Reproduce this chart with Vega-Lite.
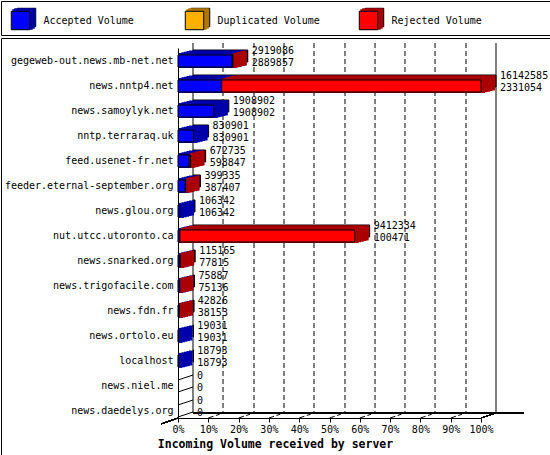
{
  "$schema": "https://vega.github.io/schema/vega-lite/v6.json",
  "padding": 0,
  "background": "white",
  "spacing": 1,
  "datasets": {
    "servers": [
      {"server": "gegeweb-out.news.mb-net.net", "total": 2919086, "accepted": 2889857},
      {"server": "news.nntp4.net", "total": 16142585, "accepted": 2331054},
      {"server": "news.samoylyk.net", "total": 1908902, "accepted": 1908902},
      {"server": "nntp.terraraq.uk", "total": 830901, "accepted": 830901},
      {"server": "feed.usenet-fr.net", "total": 672735, "accepted": 598847},
      {"server": "feeder.eternal-september.org", "total": 399335, "accepted": 387407},
      {"server": "news.glou.org", "total": 106342, "accepted": 106342},
      {"server": "nut.utcc.utoronto.ca", "total": 9412334, "accepted": 100471},
      {"server": "news.snarked.org", "total": 115165, "accepted": 77815},
      {"server": "news.trigofacile.com", "total": 75887, "accepted": 75136},
      {"server": "news.fdn.fr", "total": 42826, "accepted": 38153},
      {"server": "news.ortolo.eu", "total": 19031, "accepted": 19031},
      {"server": "localhost", "total": 18793, "accepted": 18793},
      {"server": "news.niel.me", "total": 0, "accepted": 0},
      {"server": "news.daedelys.org", "total": 0, "accepted": 0}
    ],
    "series": [
      {"name": "Accepted Volume"},
      {"name": "Duplicated Volume"},
      {"name": "Rejected Volume"}
    ],
    "ticks": [
      {"share": 0.1}, {"share": 0.2}, {"share": 0.3}, {"share": 0.4}, {"share": 0.5},
      {"share": 0.6}, {"share": 0.7}, {"share": 0.8}, {"share": 0.9}
    ]
  },
  "config": {
    "view": {"stroke": "black", "strokeWidth": 1},
    "axis": {
      "labelFont": "DejaVu Sans Mono",
      "labelFontSize": 10,
      "labelColor": "black",
      "titleFont": "DejaVu Sans Mono",
      "titleColor": "black",
      "domainColor": "black",
      "tickColor": "black"
    }
  },
  "vconcat": [
    {
      "width": 549,
      "height": 34,
      "data": {"name": "series"},
      "encoding": {
        "x": {
          "field": "name",
          "type": "nominal",
          "sort": null,
          "scale": {"type": "point", "range": [19.5, 367.5], "padding": 0},
          "axis": null
        }
      },
      "layer": [
        {
          "mark": {"type": "square", "size": 340, "opacity": 1, "stroke": "black", "strokeWidth": 1, "xOffset": 6, "yOffset": -0.5},
          "encoding": {
            "color": {
              "field": "name",
              "type": "nominal",
              "scale": {"domain": ["Accepted Volume", "Duplicated Volume", "Rejected Volume"], "range": ["#0000aa", "#b07800", "#aa0000"]},
              "legend": null
            }
          }
        },
        {
          "mark": {"type": "square", "size": 340, "opacity": 1, "strokeWidth": 2, "xOffset": 4, "yOffset": 0.5},
          "encoding": {
            "color": {"field": "name", "type": "nominal", "legend": null},
            "stroke": {
              "field": "name",
              "type": "nominal",
              "scale": {"domain": ["Accepted Volume", "Duplicated Volume", "Rejected Volume"], "range": ["#0000aa", "#b07800", "#aa0000"]},
              "legend": null
            }
          }
        },
        {
          "mark": {"type": "square", "size": 340, "opacity": 1, "strokeWidth": 2, "xOffset": 2, "yOffset": 1.5},
          "encoding": {
            "color": {"field": "name", "type": "nominal", "legend": null},
            "stroke": {"field": "name", "type": "nominal", "legend": null}
          }
        },
        {
          "mark": {"type": "square", "size": 340, "opacity": 1, "stroke": "black", "strokeWidth": 1, "yOffset": 2.5},
          "encoding": {
            "fill": {
              "field": "name",
              "type": "nominal",
              "scale": {"domain": ["Accepted Volume", "Duplicated Volume", "Rejected Volume"], "range": ["#0000ff", "#ffb000", "#ff0000"]},
              "legend": null
            }
          }
        },
        {
          "mark": {"type": "text", "align": "left", "baseline": "middle", "dx": 23, "dy": 3, "font": "DejaVu Sans Mono", "fontSize": 10, "color": "black"},
          "encoding": {"text": {"field": "name"}}
        }
      ]
    },
    {
      "width": 549,
      "height": 419,
      "data": {"name": "servers"},
      "resolve": {"scale": {"x": "independent"}, "axis": {"x": "independent"}},
      "layer": [
        {
          "encoding": {
            "y": {
              "field": "server",
              "type": "nominal",
              "sort": null,
              "scale": {"type": "band", "range": [10, 380], "paddingInner": 0.52, "paddingOuter": 0.16, "align": 0.875},
              "axis": {"title": null, "offset": -177, "ticks": false, "labelPadding": 5, "labelLimit": 300}
            }
          },
          "layer": [
            {
              "transform": [{"filter": "datum.accepted > 0"}],
              "mark": {"type": "bar", "fill": "#0000aa", "stroke": "black", "strokeWidth": 1, "xOffset": 15, "x2Offset": 15, "yOffset": -5, "y2Offset": -5},
              "encoding": {
                "x": {
                  "field": "accepted",
                  "type": "quantitative",
                  "title": "Incoming Volume received by server",
                  "scale": {"domain": [0, 16142585], "range": [177, 480], "nice": false, "zero": true},
                  "axis": {
                    "orient": "bottom",
                    "offset": -39,
                    "grid": false,
                    "values": [0, 1614258.5, 3228517, 4842775.5, 6457034, 8071292.5, 9685551, 11299809.5, 12914068, 14528326.5, 16142585],
                    "labelExpr": "format(datum.value / 16142585, '.0%')",
                    "tickSize": 4,
                    "labelPadding": 2,
                    "labelFlush": false,
                    "labelOverlap": false,
                    "titleX": 274,
                    "titleY": 26,
                    "titleAlign": "center",
                    "titleBaseline": "middle",
                    "titleFontWeight": "bold",
                    "titleFontSize": 11.5
                  }
                }
              }
            },
            {
              "transform": [{"filter": "datum.accepted > 0"}],
              "mark": {"type": "bar", "fill": "#0000aa", "stroke": "#0000aa", "strokeWidth": 3, "xOffset": 12.5, "x2Offset": 12.5, "yOffset": -3, "y2Offset": -3},
              "encoding": {"x": {"field": "accepted", "type": "quantitative", "title": "Incoming Volume received by server"}}
            },
            {
              "transform": [{"filter": "datum.accepted > 0"}],
              "mark": {"type": "bar", "fill": "#0000aa", "stroke": "#0000aa", "strokeWidth": 3, "xOffset": 10, "x2Offset": 10, "yOffset": -2.4, "y2Offset": -2.4},
              "encoding": {"x": {"field": "accepted", "type": "quantitative", "title": "Incoming Volume received by server"}}
            },
            {
              "transform": [{"filter": "datum.accepted > 0"}],
              "mark": {"type": "bar", "fill": "#0000aa", "stroke": "#0000aa", "strokeWidth": 3, "xOffset": 7.5, "x2Offset": 7.5, "yOffset": -1.8, "y2Offset": -1.8},
              "encoding": {"x": {"field": "accepted", "type": "quantitative", "title": "Incoming Volume received by server"}}
            },
            {
              "transform": [{"filter": "datum.accepted > 0"}],
              "mark": {"type": "bar", "fill": "#0000aa", "stroke": "#0000aa", "strokeWidth": 3, "xOffset": 5, "x2Offset": 5, "yOffset": -1.2, "y2Offset": -1.2},
              "encoding": {"x": {"field": "accepted", "type": "quantitative", "title": "Incoming Volume received by server"}}
            },
            {
              "transform": [{"filter": "datum.accepted > 0"}],
              "mark": {"type": "bar", "fill": "#0000aa", "stroke": "#0000aa", "strokeWidth": 3, "xOffset": 2.5, "x2Offset": 2.5, "yOffset": -0.6, "y2Offset": -0.6},
              "encoding": {"x": {"field": "accepted", "type": "quantitative", "title": "Incoming Volume received by server"}}
            },
            {
              "transform": [{"filter": "datum.total > datum.accepted"}],
              "mark": {"type": "bar", "fill": "#aa0000", "stroke": "black", "strokeWidth": 1, "xOffset": 15, "x2Offset": 15, "yOffset": -5, "y2Offset": -5},
              "encoding": {"x": {"field": "accepted", "type": "quantitative", "title": "Incoming Volume received by server"}, "x2": {"field": "total"}}
            },
            {
              "transform": [{"filter": "datum.total > datum.accepted"}],
              "mark": {"type": "bar", "fill": "#aa0000", "stroke": "#aa0000", "strokeWidth": 3, "xOffset": 12.5, "x2Offset": 12.5, "yOffset": -3, "y2Offset": -3},
              "encoding": {"x": {"field": "accepted", "type": "quantitative", "title": "Incoming Volume received by server"}, "x2": {"field": "total"}}
            },
            {
              "transform": [{"filter": "datum.total > datum.accepted"}],
              "mark": {"type": "bar", "fill": "#aa0000", "stroke": "#aa0000", "strokeWidth": 3, "xOffset": 10, "x2Offset": 10, "yOffset": -2.4, "y2Offset": -2.4},
              "encoding": {"x": {"field": "accepted", "type": "quantitative", "title": "Incoming Volume received by server"}, "x2": {"field": "total"}}
            },
            {
              "transform": [{"filter": "datum.total > datum.accepted"}],
              "mark": {"type": "bar", "fill": "#aa0000", "stroke": "#aa0000", "strokeWidth": 3, "xOffset": 7.5, "x2Offset": 7.5, "yOffset": -1.8, "y2Offset": -1.8},
              "encoding": {"x": {"field": "accepted", "type": "quantitative", "title": "Incoming Volume received by server"}, "x2": {"field": "total"}}
            },
            {
              "transform": [{"filter": "datum.total > datum.accepted"}],
              "mark": {"type": "bar", "fill": "#aa0000", "stroke": "#aa0000", "strokeWidth": 3, "xOffset": 5, "x2Offset": 5, "yOffset": -1.2, "y2Offset": -1.2},
              "encoding": {"x": {"field": "accepted", "type": "quantitative", "title": "Incoming Volume received by server"}, "x2": {"field": "total"}}
            },
            {
              "transform": [{"filter": "datum.total > datum.accepted"}],
              "mark": {"type": "bar", "fill": "#aa0000", "stroke": "#aa0000", "strokeWidth": 3, "xOffset": 2.5, "x2Offset": 2.5, "yOffset": -0.6, "y2Offset": -0.6},
              "encoding": {"x": {"field": "accepted", "type": "quantitative", "title": "Incoming Volume received by server"}, "x2": {"field": "total"}}
            },
            {
              "transform": [{"filter": "datum.accepted > 0"}],
              "mark": {"type": "bar", "fill": "#0000ff", "stroke": "black", "strokeWidth": 1},
              "encoding": {"x": {"field": "accepted", "type": "quantitative", "title": "Incoming Volume received by server"}}
            },
            {
              "transform": [{"filter": "datum.total > datum.accepted"}],
              "mark": {"type": "bar", "fill": "#ff0000", "stroke": "black", "strokeWidth": 1},
              "encoding": {"x": {"field": "accepted", "type": "quantitative", "title": "Incoming Volume received by server"}, "x2": {"field": "total"}}
            },
            {
              "transform": [{"filter": "datum.total == 0"}],
              "mark": {"type": "rule", "color": "black", "strokeWidth": 1, "x2Offset": 15, "yOffset": -6, "y2Offset": -11},
              "encoding": {
                "x": {"field": "total", "type": "quantitative", "title": "Incoming Volume received by server"},
                "x2": {"field": "total"},
                "y2": {"field": "server"}
              }
            },
            {
              "transform": [{"filter": "datum.total == 0"}],
              "mark": {"type": "rule", "color": "black", "strokeWidth": 1, "x2Offset": 15, "yOffset": 6, "y2Offset": 1},
              "encoding": {
                "x": {"field": "total", "type": "quantitative", "title": "Incoming Volume received by server"},
                "x2": {"field": "total"},
                "y2": {"field": "server"}
              }
            }
          ]
        },
        {
          "layer": [
            {
              "mark": {"type": "text", "align": "left", "baseline": "middle", "dx": -1, "dy": -10.5, "font": "DejaVu Sans Mono", "fontSize": 10, "color": "black"},
              "encoding": {
                "x": {
                  "field": "total",
                  "type": "quantitative",
                  "scale": {"domain": [0, 16142585], "range": [197, 500], "nice": false, "zero": true},
                  "axis": {
                    "orient": "top",
                    "translate": -5,
                    "domain": false,
                    "ticks": false,
                    "labels": false,
                    "title": null,
                    "grid": true,
                    "values": [0, 1614258.5, 3228517, 4842775.5, 6457034, 8071292.5, 9685551, 11299809.5, 12914068, 14528326.5, 16142585],
                    "gridColor": "black",
                    "gridOpacity": 1,
                    "gridWidth": 1,
                    "gridDash": {"condition": {"test": "datum.value == 0 || datum.value == 16142585", "value": []}, "value": [5, 3]}
                  }
                },
                "y": {"field": "server", "type": "nominal", "sort": null},
                "text": {"field": "total"}
              }
            },
            {
              "mark": {"type": "text", "align": "left", "baseline": "middle", "dx": -1, "dy": 1.5, "font": "DejaVu Sans Mono", "fontSize": 10, "color": "black"},
              "encoding": {
                "x": {"field": "total", "type": "quantitative", "title": null},
                "y": {"field": "server", "type": "nominal", "sort": null},
                "text": {"field": "accepted"}
              }
            },
            {
              "mark": {"type": "rule", "color": "black", "strokeWidth": 1, "xOffset": -5, "x2Offset": 23, "yOffset": 2},
              "encoding": {
                "x": {"datum": 0, "type": "quantitative", "title": null},
                "x2": {"datum": 16142585},
                "y": {"datum": "news.daedelys.org", "type": "nominal"}
              }
            },
            {
              "mark": {"type": "rule", "color": "black", "strokeWidth": 1, "xOffset": -20, "x2Offset": -5, "yOffset": 7, "y2Offset": 2},
              "encoding": {
                "x": {"datum": 16142585, "type": "quantitative", "title": null},
                "x2": {"datum": 16142585},
                "y": {"datum": "news.daedelys.org", "type": "nominal"},
                "y2": {"datum": "news.daedelys.org"}
              }
            },
            {
              "mark": {"type": "rule", "color": "black", "strokeWidth": 1, "xOffset": -20, "x2Offset": -37, "yOffset": 7, "y2Offset": 13},
              "encoding": {
                "x": {"datum": 0, "type": "quantitative", "title": null},
                "x2": {"datum": 0},
                "y": {"datum": "news.daedelys.org", "type": "nominal"},
                "y2": {"datum": "news.daedelys.org"}
              }
            }
          ]
        },
        {
          "data": {"name": "ticks"},
          "mark": {"type": "rule", "color": "black", "strokeWidth": 1, "x2Offset": 15, "yOffset": 7, "y2Offset": 2, "strokeDash": [5.5, 2.5, 4, 10]},
          "encoding": {
            "x": {"field": "share", "type": "quantitative", "scale": {"domain": [0, 1], "range": [177, 480], "nice": false}, "axis": null},
            "x2": {"field": "share"},
            "y": {"datum": "news.daedelys.org", "type": "nominal"},
            "y2": {"datum": "news.daedelys.org"}
          }
        }
      ]
    }
  ]
}
